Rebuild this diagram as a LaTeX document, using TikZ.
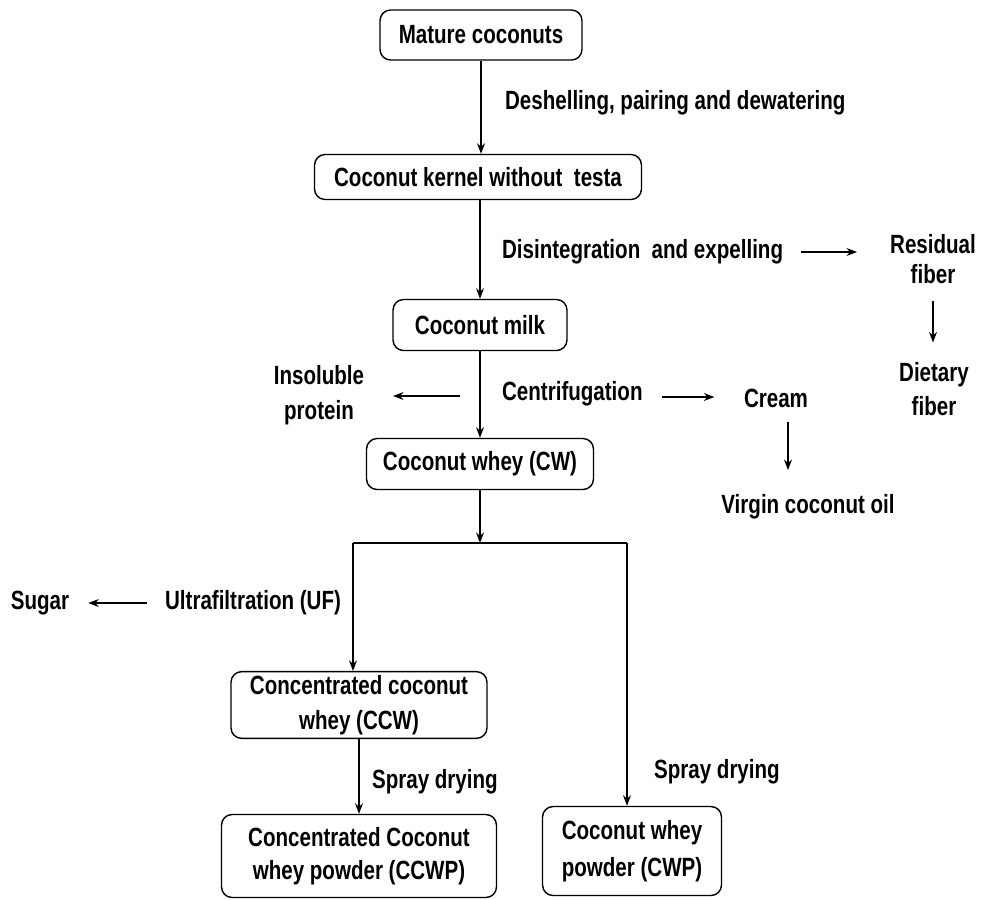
\documentclass[tikz,border=0pt]{standalone}
\usepackage{fontspec}
\setmainfont{Liberation Sans}[FakeStretch=0.78]
\usetikzlibrary{arrows.meta, positioning}

\tikzset{
    stage/.style={draw, rounded corners=6pt, line width=0.8pt, align=center, inner sep=2pt},
    lbl/.style={align=center, inner sep=1pt},
    arr/.style={-{Stealth[length=6pt,width=4.5pt]}, line width=0.8pt}
}

\begin{document}
\begin{tikzpicture}[x=0.02cm, y=-0.02cm, font=\fontsize{15}{17}\selectfont\bfseries]
            \useasboundingbox (0,0) rectangle (986,899);
            % main column
            \node[stage, minimum width=4.04cm, minimum height=1.0cm] (mature) at (481,35) {Mature coconuts};
            \node[stage, minimum width=6.54cm, minimum height=0.9cm] (kernel) at (478,177) {Coconut kernel without \ testa};
            \node[stage, minimum width=3.48cm, minimum height=1.02cm] (milk) at (480,325) {Coconut milk};
            \node[stage, minimum width=4.54cm, minimum height=1.02cm] (cw) at (480,464) {Coconut whey (CW)};
            \node[stage, minimum width=5.12cm, minimum height=1.32cm, font=\fontsize{15}{20}\selectfont\bfseries] (ccw) at (359,705) {Concentrated coconut\\whey (CCW)};
            \node[stage, minimum width=5.5cm, minimum height=1.66cm, font=\fontsize{15}{19}\selectfont\bfseries] (ccwp) at (359,856) {Concentrated Coconut\\whey powder (CCWP)};
            \node[stage, minimum width=3.58cm, minimum height=1.78cm, font=\fontsize{15}{21}\selectfont\bfseries] (cwp) at (632,851) {Coconut whey\\powder (CWP)};
            % process labels and by-products
            \node[lbl, anchor=west] (desh) at (503,103) {Deshelling, pairing and dewatering};
            \node[lbl, anchor=west] (disint) at (500,252) {Disintegration \ and expelling};
            \node[lbl] (residual) at (933,259) {Residual\\fiber};
            \node[lbl, font=\fontsize{15}{19}\selectfont\bfseries] (dietary) at (934,389) {Dietary\\fiber};
            \node[lbl, font=\fontsize{15}{20}\selectfont\bfseries] (insol) at (319,395) {Insoluble\\protein};
            \node[lbl, anchor=west] (centri) at (500,394) {Centrifugation};
            \node[lbl] (cream) at (776,398) {Cream};
            \node[lbl] (vco) at (808,507) {Virgin coconut oil};
            \node[lbl, anchor=west] (uf) at (163,603) {Ultrafiltration (UF)};
            \node[lbl] (sugar) at (40,603) {Sugar};
            \node[lbl, anchor=west] (spray1) at (370,782) {Spray drying};
            \node[lbl, anchor=west] (spray2) at (652,772) {Spray drying};
            % split after coconut whey
            \coordinate (split) at (480,543);
            \coordinate (splitL) at (353,543);
            \coordinate (splitR) at (627,543);
            \coordinate (insolstart) at (460,396);
            % connectors
            \draw[arr] (mature.south) -- (mature.south |- kernel.north);
            \draw[arr] (milk.north |- kernel.south) -- (milk.north);
            \draw[arr] (milk.south) -- (cw.north);
            \draw[arr] (cw.south) -- (split);
            \draw[line width=0.8pt] (splitL) -- (splitR);
            \draw[arr] (splitL) -- (splitL |- ccw.north);
            \draw[arr] (splitR) -- (splitR |- cwp.north);
            \draw[arr] (ccw.south) -- (ccw.south |- ccwp.north);
            \draw[arr, shorten <=0.32cm, shorten >=0.62cm] (disint.east) -- (disint.east -| residual.west);
            \draw[arr, shorten <=0.3cm, shorten >=0.36cm] (residual.south) -- (residual.south |- dietary.north);
            \draw[arr] (insolstart) -- (insolstart -| 393,0);
            \draw[arr, shorten <=0.34cm, shorten >=0.55cm] ([yshift=-0.06cm]centri.east) -- ([yshift=-0.06cm]centri.east -| cream.west);
            \draw[arr, shorten <=0.25cm, shorten >=0.45cm] ([xshift=0.24cm]cream.south) -- ([xshift=0.24cm]cream.south |- vco.north);
            \draw[arr, shorten <=0.32cm, shorten >=0.34cm] (uf.west) -- (sugar.east);
        \end{tikzpicture}
\end{document}
